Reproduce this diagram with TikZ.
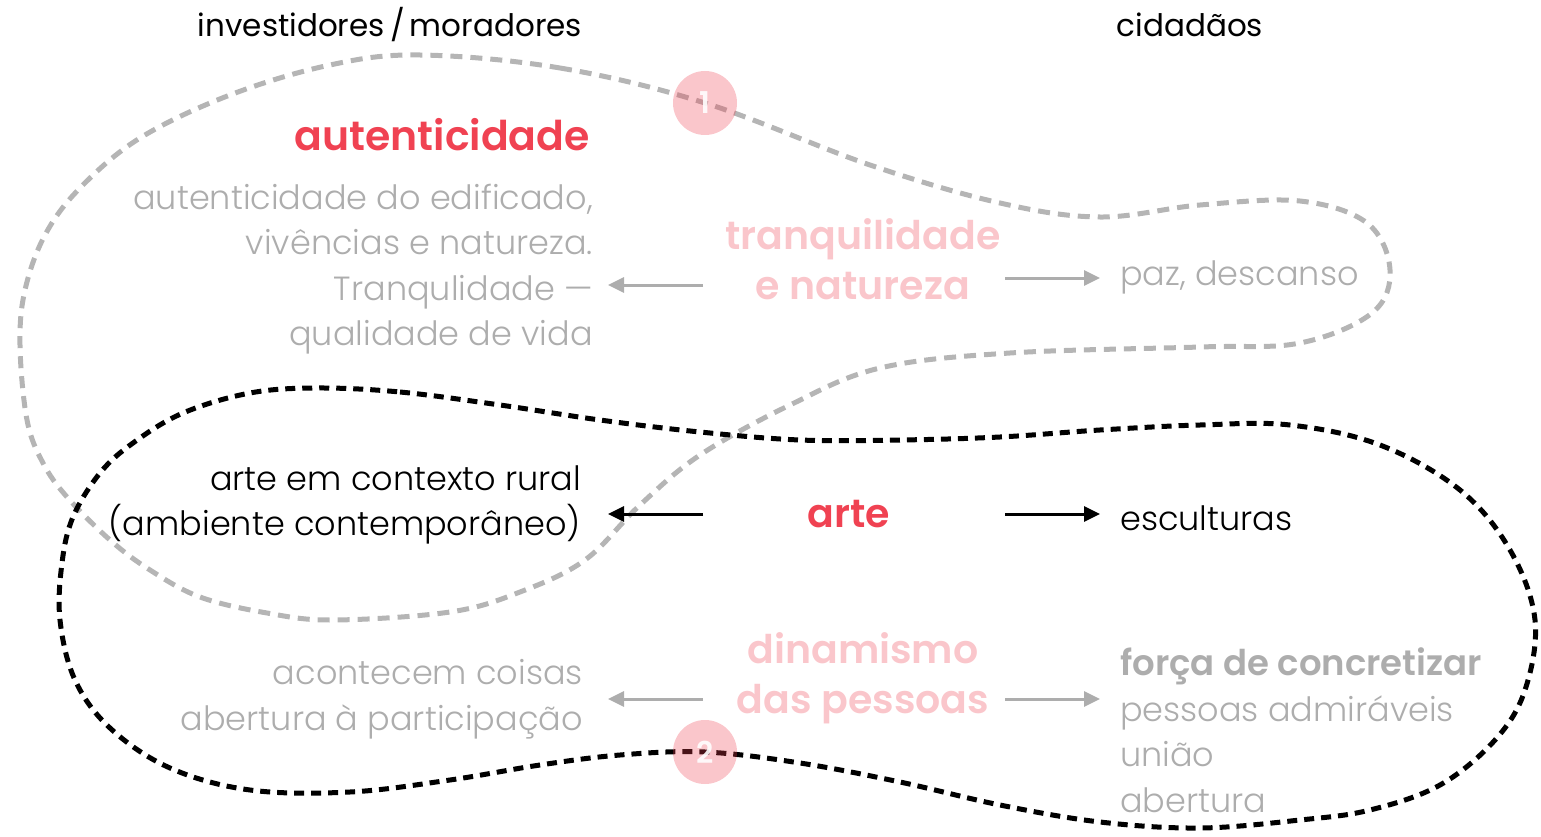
\documentclass[tikz,border=0pt]{standalone}
\usepackage{fontspec}
\usetikzlibrary{arrows.meta}
\setmainfont{Poppins}
\IfFontExistsTF{Poppins Light}{\newfontfamily\lightfont{Poppins Light}}{\newfontfamily\lightfont{Poppins}}
\IfFontExistsTF{Poppins SemiBold}{\newfontfamily\semifont{Poppins SemiBold}}{\newfontfamily\semifont{Poppins}[BoldFont=*, UprightFont=* Bold]}
\definecolor{artred}{RGB}{240,66,82}
\colorlet{artpink}{artred!30}
\colorlet{softgrey}{black!32}
\colorlet{loopgrey}{black!29}
\tikzset{
	headtxt/.style={font=\fontsize{31}{35}\selectfont, inner sep=0},
	keytxt/.style={font=\fontsize{39.5}{50}\selectfont\semifont, inner sep=0, align=center},
	listtxt/.style={font=\fontsize{33.5}{45.5}\selectfont\lightfont, inner sep=0},
	garrow/.style={draw=softgrey, line width=3pt, -{Triangle[length=16pt, width=15pt]}},
	barrow/.style={draw=black, line width=3pt, -{Triangle[length=16pt, width=15pt]}},
	numdot/.style={circle, fill=artred, fill opacity=0.3, text=white, text opacity=0.9, minimum size=64pt, inner sep=0, font=\fontsize{30}{30}\selectfont\semifont}
}
\begin{document}
\begin{tikzpicture}[x=1pt, y=-1pt]
	\useasboundingbox (0, 0) rectangle (1541, 837);
	% grey loop
	\draw[loopgrey, line width=5pt, dash pattern=on 12pt off 8pt] plot[smooth cycle, tension=0.6] coordinates {
		(420, 55) (560, 68) (705, 103) (870, 165) (1000, 203) (1100, 217) (1200, 205) (1300, 201)
		(1367, 223) (1390, 270) (1372, 313) (1300, 343) (1200, 347) (1010, 353) (880, 368) (790, 405)
		(700, 455) (640, 505) (585, 560) (520, 592) (450, 612) (333, 620) (267, 613) (200, 597)
		(150, 570) (110, 540) (67, 497) (43, 463) (27, 420) (20, 345) (25, 290) (45, 235)
		(80, 188) (140, 138) (230, 95) (330, 65)};
	% black loop
	\draw[black, line width=5pt, dash pattern=on 10pt off 7pt] plot[smooth cycle, tension=0.6] coordinates {
		(317, 388) (400, 392) (500, 405) (600, 420) (700, 432) (800, 440) (900, 440) (1000, 437)
		(1100, 430) (1200, 425) (1290, 425) (1380, 445) (1460, 490) (1510, 550) (1535, 620) (1525, 690)
		(1495, 740) (1440, 785) (1370, 810) (1300, 820) (1200, 828) (1100, 822) (1000, 805) (900, 782)
		(800, 763) (705, 752) (620, 755) (540, 765) (450, 780) (350, 792) (250, 790) (170, 768)
		(110, 728) (75, 680) (60, 620) (62, 563) (73, 517) (100, 473) (133, 443) (183, 413) (250, 393)};
	\node[numdot] (one) at (705, 103) {1};
	\node[numdot] (two) at (705, 752) {2};
	% headings
	\node[headtxt] (inv) at (390, 25) {investidores\,/\,moradores};
	\node[headtxt] (cid) at (1190, 25) {cidadãos};
	% autenticidade
	\node[keytxt, text=artred, font=\fontsize{41}{50}\selectfont\semifont, anchor=east] (aut) at (590, 135) {autenticidade};
	\node[listtxt, text=softgrey, align=right, anchor=east] (autlist) at (593, 269) {autenticidade do edificado,\\vivências e natureza.\\Tranqulidade —\\qualidade de vida};
	\node[keytxt, text=artpink] (tranq) at (863, 259) {tranquilidade\\e natureza};
	\node[listtxt, text=softgrey, anchor=west] (paz) at (1120, 277) {paz, descanso};
	% arte
	\node[listtxt, align=right, anchor=east] (artlist) at (581, 505) {arte em contexto rural\\(ambiente contemporâneo)};
	\node[keytxt, text=artred] (arte) at (849, 514) {arte};
	\node[listtxt, anchor=west] (esc) at (1120, 518) {esculturas};
	% dinamismo
	\node[listtxt, text=softgrey, align=right, anchor=east] (acont) at (583, 699) {acontecem coisas\\abertura à participação};
	\node[keytxt, text=artpink] (dinam) at (863, 678) {dinamismo\\das pessoas};
	\node[listtxt, text=softgrey, align=left, anchor=west] (forca) at (1120, 730) {{\fontsize{35.5}{45.5}\selectfont\semifont força de concretizar}\\pessoas admiráveis\\união\\abertura};
	% arrows
	\coordinate (tl) at (703, 285);
	\coordinate (tle) at (608, 285);
	\coordinate (tr) at (1005, 278);
	\coordinate (tre) at (1100, 278);
	\coordinate (al) at (703, 514);
	\coordinate (ale) at (608, 514);
	\coordinate (ar) at (1005, 514);
	\coordinate (are) at (1100, 514);
	\coordinate (dl) at (703, 699);
	\coordinate (dle) at (608, 699);
	\coordinate (dr) at (1005, 699);
	\coordinate (dre) at (1100, 699);
	\draw[garrow] (tl) -- (tle);
	\draw[garrow] (tr) -- (tre);
	\draw[barrow] (al) -- (ale);
	\draw[barrow] (ar) -- (are);
	\draw[garrow] (dl) -- (dle);
	\draw[garrow] (dr) -- (dre);
\end{tikzpicture}
\end{document}
